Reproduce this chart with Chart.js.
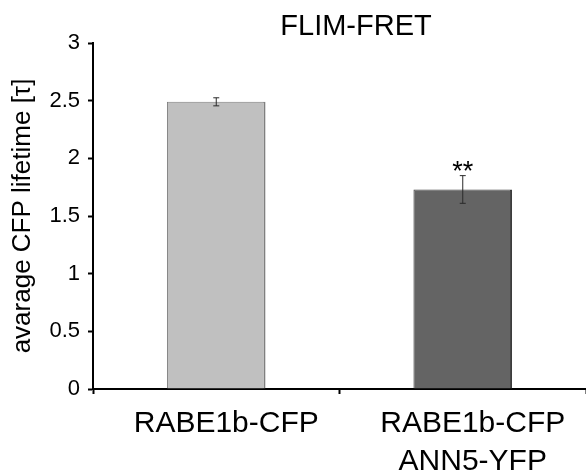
<!DOCTYPE html>
<html>
<head>
<meta charset="utf-8">
<script src="https://cdn.jsdelivr.net/npm/chart.js@4"></script>
<style>
  html, body { margin: 0; padding: 0; background: #ffffff; }
  #c { display: block; }
</style>
</head>
<body>
<canvas id="c" width="586" height="475"></canvas>
<script>
const chartTitle = 'FLIM-FRET';
const yAxisTitle = 'avarage CFP lifetime [τ]';
const categories = [['RABE1b-CFP'], ['RABE1b-CFP', 'ANN5-YFP']];
const lifetimes = [2.49, 1.73];
const errors = [0.035, 0.12];
const significance = ['', '**'];
const barColors = ['#c0c0c0', '#646464'];
const barBorders = ['#7f7f7f', '#3c3c3c'];

const FONT = "'Liberation Sans', Arial, sans-serif";

const errorBarPlugin = {
  id: 'errorBars',
  afterDatasetsDraw(chart) {
    const ctx = chart.ctx;
    const meta = chart.getDatasetMeta(0);
    const ys = chart.scales.y;
    ctx.save();
    meta.data.forEach((bar, i) => {
      const v = lifetimes[i], e = errors[i];
      const top = ys.getPixelForValue(v + e);
      const bot = ys.getPixelForValue(v - e);
      ctx.strokeStyle = '#2a2a2a';
      ctx.lineWidth = 1;
      ctx.beginPath();
      ctx.moveTo(bar.x, top); ctx.lineTo(bar.x, bot);
      ctx.moveTo(bar.x - 3, top); ctx.lineTo(bar.x + 3, top);
      ctx.moveTo(bar.x - 3, bot); ctx.lineTo(bar.x + 3, bot);
      ctx.stroke();
      if (significance[i]) {
        ctx.fillStyle = '#000';
        ctx.font = '27px ' + FONT;
        ctx.textAlign = 'center';
        ctx.textBaseline = 'alphabetic';
        ctx.fillText(significance[i], bar.x, top + 4);
      }
    });
    ctx.restore();
  }
};

const titlePlugin = {
  id: 'customTitle',
  afterDraw(chart) {
    const ctx = chart.ctx;
    ctx.save();
    ctx.fillStyle = '#000';
    ctx.font = '29px ' + FONT;
    ctx.textAlign = 'center';
    ctx.textBaseline = 'alphabetic';
    ctx.fillText(chartTitle, 356, 35);
    ctx.restore();
  }
};

new Chart(document.getElementById('c'), {
  type: 'bar',
  data: {
    labels: categories,
    datasets: [{
      data: lifetimes,
      backgroundColor: barColors,
      borderColor: barBorders,
      borderWidth: { top: 1, left: 1, right: 2, bottom: 0 },
      borderSkipped: false,
      barPercentage: 0.4,
      categoryPercentage: 1.0
    }]
  },
  options: {
    responsive: false,
    animation: false,
    layout: { padding: { top: 43, left: 0, right: 0, bottom: 0 } },
    plugins: {
      legend: { display: false },
      title: { display: false },
      tooltip: { enabled: false }
    },
    scales: {
      x: {
        grid: { drawOnChartArea: false, offset: true, tickLength: 5, color: '#000', tickWidth: 2 },
        border: { color: '#000', width: 2 },
        ticks: { color: '#000', font: { family: FONT, size: 30, lineHeight: 1.25 }, padding: 11, maxRotation: 0, labelOffset: 10 },
        afterFit(s) { s.height = 86; }
      },
      y: {
        min: 0, max: 3,
        grid: { drawOnChartArea: false, tickLength: 5, color: '#000', tickWidth: 2 },
        border: { color: '#000', width: 2 },
        ticks: { stepSize: 0.5, color: '#000', font: { family: FONT, size: 22 }, padding: 8,
                 callback: (v) => String(v) },
        title: { display: true, text: yAxisTitle, color: '#000', font: { family: FONT, size: 26 }, padding: { top: 7, bottom: 0 } },
        afterFit(s) { s.width = 93; }
      }
    }
  },
  plugins: [errorBarPlugin, titlePlugin]
});
</script>
</body>
</html>
